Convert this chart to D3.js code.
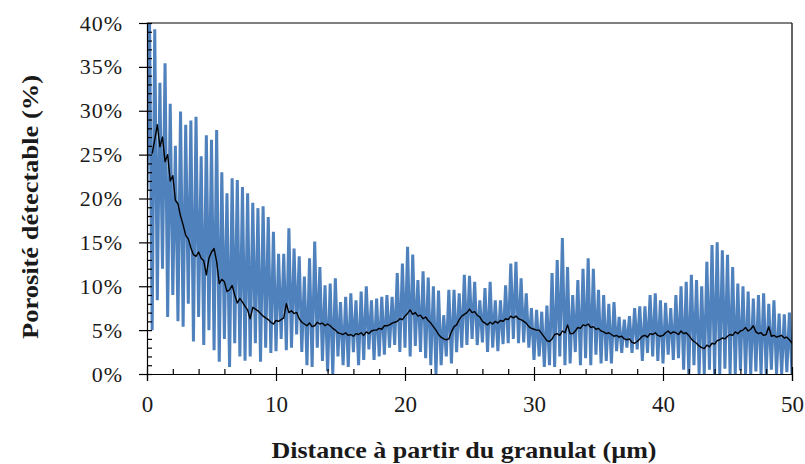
<!DOCTYPE html>
<html>
<head>
<meta charset="utf-8">
<script src="https://cdn.jsdelivr.net/npm/d3@7"></script>
<style>
  html, body { margin: 0; padding: 0; background: #fff; }
  svg { display: block; }
  .tick text { font-family: "Liberation Serif", "Times New Roman", serif; fill: #1a1a1a; }
</style>
</head>
<body>
<svg id="chart" width="805" height="464"></svg>
<script>
// ---- data ----
const xStep = 0.2;            // µm between samples
const blueStart = 0.0;        // first x of the raw series
const blackStart = 0.4;       // first x of the smoothed series

// raw porosity (%) sampled every 0.2 µm from 0 to 50
const porosityRaw = [
  21.0, 40.0, 5.0, 39.3, 8.4, 33.2, 12.0, 35.4, 6.5, 30.8,
  9.0, 26.0, 6.0, 29.9, 5.4, 28.4, 8.0, 28.9, 3.7, 29.3,
  6.5, 24.8, 3.3, 27.2, 5.0, 26.7, 2.7, 27.8, 1.4, 23.0,
  4.0, 20.6, 0.8, 22.3, 3.5, 22.1, 2.0, 21.3, 1.5, 20.6,
  2.0, 19.5, 3.5, 18.9, 1.4, 19.1, 3.0, 17.9, 2.4, 16.2,
  2.6, 13.7, 4.0, 13.7, 2.7, 16.6, 3.0, 14.3, 4.5, 13.4,
  2.5, 11.1, 1.0, 13.2, 0.8, 15.1, 3.0, 12.2, 1.5, 10.1,
  0.3, 10.3, 0.0, 10.9, 2.0, 8.2, 1.0, 8.8, 0.8, 9.2,
  2.5, 8.4, 1.0, 9.4, 1.6, 10.0, 2.8, 8.4, 1.6, 8.6,
  2.0, 8.8, 2.2, 9.0, 3.0, 8.8, 3.3, 11.5, 2.5, 12.6,
  3.0, 14.5, 2.0, 13.6, 3.2, 10.7, 2.5, 11.7, 1.8, 11.0,
  1.0, 10.0, 0.0, 9.5, 1.0, 6.7, 2.0, 9.6, 1.2, 9.6,
  2.5, 9.2, 3.0, 11.3, 3.3, 11.2, 4.0, 10.5, 3.3, 8.4,
  3.6, 9.8, 2.5, 10.5, 3.0, 8.4, 2.6, 8.4, 3.4, 10.1,
  3.5, 12.6, 4.0, 12.8, 3.5, 10.9, 3.6, 9.2, 3.0, 7.5,
  1.6, 7.3, 2.0, 7.1, 0.8, 7.8, 1.0, 11.5, 0.8, 13.0,
  2.0, 15.5, 1.0, 12.2, 1.2, 9.0, 2.5, 10.7, 1.0, 12.0,
  1.8, 13.2, 1.0, 12.0, 2.2, 9.6, 1.2, 9.0, 1.5, 8.0,
  1.2, 8.2, 2.6, 6.5, 2.4, 6.2, 3.0, 6.6, 2.4, 7.5,
  2.8, 7.7, 1.5, 7.7, 2.4, 9.0, 2.0, 9.2, 1.5, 8.4,
  1.2, 8.1, 2.2, 7.5, 1.6, 9.0, 1.8, 10.0, 0.5, 10.5,
  0.0, 11.3, 1.0, 10.7, 0.0, 10.0, 0.0, 12.8, 0.5, 14.7,
  0.0, 15.0, 0.0, 14.1, 0.6, 13.6, 0.0, 12.2, 0.0, 10.3,
  0.4, 10.0, 0.0, 9.4, 0.0, 8.6, 0.3, 9.0, 0.0, 9.2,
  0.0, 8.0, 0.5, 8.4, 0.0, 6.9, 0.0, 6.8, 0.2, 7.0,
  0.0
];

// smoothed porosity (%) every 0.2 µm from 0.4 to 50
const porositySmooth = [
  25.1, 26.7, 28.4, 25.9, 27.0, 24.2, 25.0, 22.0, 22.6, 19.8,
  19.4, 18.0, 17.0, 15.8, 15.4, 14.4, 13.6, 13.4, 13.9, 13.2,
  12.9, 11.3, 13.2, 13.9, 14.3, 12.8, 10.3, 10.8, 10.5, 9.4,
  9.6, 10.1, 9.0, 8.1, 8.6, 8.2, 7.7, 7.3, 6.3, 7.6,
  7.4, 7.2, 6.9, 6.6, 6.4, 6.2, 5.9, 5.7, 6.1, 6.0,
  6.2, 6.4, 8.0, 7.0, 7.2, 6.9, 7.0, 6.3, 5.9, 5.7,
  5.5, 5.8, 5.4, 5.5, 5.9, 5.7, 5.8, 5.5, 5.7, 5.5,
  5.2, 5.0, 4.7, 4.6, 4.5, 4.7, 4.4, 4.5, 4.3, 4.6,
  4.5, 4.7, 4.4, 4.8, 4.6, 4.9, 5.0, 5.0, 5.2, 5.1,
  5.5, 5.5, 5.6, 5.8, 5.9, 6.0, 6.3, 6.2, 6.6, 6.9,
  7.3, 6.8, 7.0, 6.6, 6.7, 6.3, 6.5, 6.1, 5.8, 5.4,
  5.0, 4.5, 4.2, 4.0, 3.9, 4.0, 4.8, 5.4, 5.6, 6.2,
  6.6, 6.8, 7.0, 7.4, 7.0, 7.1, 6.7, 6.5, 6.0, 5.8,
  5.6, 5.9, 5.7, 6.0, 5.8, 6.1, 6.0, 6.3, 6.2, 6.6,
  6.4, 6.6, 6.3, 6.2, 6.0, 5.8, 5.4, 5.2, 5.1, 5.0,
  5.0, 4.6, 4.2, 3.8, 3.7, 4.0, 4.5, 4.6, 4.4, 4.9,
  4.7, 5.6, 4.6, 4.6, 4.9, 5.3, 5.2, 5.6, 5.5, 5.7,
  5.3, 5.4, 5.1, 5.2, 4.9, 4.8, 4.6, 4.7, 4.5, 4.3,
  4.4, 4.2, 4.3, 4.0, 3.9, 4.0, 3.6, 3.5, 3.7, 4.0,
  4.3, 4.4, 4.2, 4.6, 4.5, 4.7, 4.4, 4.3, 4.4, 4.7,
  4.9, 4.6, 4.8, 4.7, 4.5, 4.9, 4.6, 4.7, 4.4, 4.0,
  3.7, 3.5, 3.2, 3.0, 2.9, 3.3, 3.1, 3.5, 3.4, 3.8,
  3.9, 4.1, 4.0, 4.3, 4.5, 4.4, 4.8, 4.6, 4.9, 5.0,
  5.3, 4.9, 5.1, 5.5, 4.8, 4.6, 4.7, 4.4, 4.5, 5.4,
  4.3, 4.4, 4.2, 4.3, 4.4, 4.1, 4.2, 3.9, 3.5
];

const xTicks = [0, 10, 20, 30, 40, 50];
const xMinorTicks = [2, 4, 6, 8, 12, 14, 16, 18, 22, 24, 26, 28, 32, 34, 36, 38, 42, 44, 46, 48];
const yTicks = [0, 5, 10, 15, 20, 25, 30, 35, 40];
const yMinorTicks = [1,2,3,4,6,7,8,9,11,12,13,14,16,17,18,19,21,22,23,24,26,27,28,29,31,32,33,34,36,37,38,39];
const xTitle = "Distance à partir du granulat (µm)";
const yTitle = "Porosité détectable (%)";

// ---- drawing ----
(function () {
const svg = d3.select("#chart");
const pL = 147, pR = 792, pT = 23, pB = 374;
const fam = '"Liberation Serif", "Times New Roman", serif';

const x = d3.scaleLinear().domain([0, 50]).range([pL, pR]);
const y = d3.scaleLinear().domain([0, 40]).range([pB, pT]);

const blueData = porosityRaw.map((v, i) => [blueStart + i * xStep, v]);
const blackData = porositySmooth.map((v, i) => [blackStart + i * xStep, v]);

const line = d3.line().x(d => x(d[0])).y(d => y(d[1]));

svg.append("defs").append("clipPath").attr("id", "plotclip")
  .append("rect").attr("x", pL).attr("y", pT - 1).attr("width", pR - pL).attr("height", pB - pT + 1);

const plot = svg.append("g").attr("clip-path", "url(#plotclip)");
plot.append("path").datum(blueData)
  .attr("d", line).attr("fill", "none")
  .attr("stroke", "#4F81BD").attr("stroke-width", 3)
  .attr("stroke-linejoin", "miter").attr("stroke-miterlimit", 2);
plot.append("path").datum(blackData)
  .attr("d", line).attr("fill", "none")
  .attr("stroke", "#000").attr("stroke-width", 1.4)
  .attr("stroke-linejoin", "round");

// frame (top and right)
svg.append("line").attr("x1", pL).attr("x2", pR).attr("y1", pT).attr("y2", pT)
  .attr("stroke", "#000").attr("stroke-width", 1.2);
svg.append("line").attr("x1", pR).attr("x2", pR).attr("y1", pT).attr("y2", pB)
  .attr("stroke", "#000").attr("stroke-width", 1.2);

// Y axis
const yAxis = svg.append("g").attr("transform", `translate(${pL},0)`)
  .call(d3.axisLeft(y).tickValues(yTicks).tickSize(8).tickPadding(16).tickFormat(d => d + "%"));
yAxis.selectAll("text").style("font-size", "22px").style("letter-spacing", "1px");
svg.append("g").attr("transform", `translate(${pL},0)`)
  .call(d3.axisLeft(y).tickValues(yTicks.concat(yMinorTicks)).tickSizeInner(-5).tickSizeOuter(0).tickFormat(""))
  .select(".domain").remove();

// X axis
const xAxis = svg.append("g").attr("transform", `translate(0,${pB})`)
  .call(d3.axisBottom(x).tickValues(xTicks).tickSize(7).tickPadding(15).tickFormat(d3.format("d")));
xAxis.selectAll("text").style("font-size", "23px");
svg.append("g").attr("transform", `translate(0,${pB})`)
  .call(d3.axisBottom(x).tickValues(xTicks).tickSizeInner(-7).tickSizeOuter(0).tickFormat(""))
  .select(".domain").remove();
svg.append("g").attr("transform", `translate(0,${pB})`)
  .call(d3.axisBottom(x).tickValues(xMinorTicks).tickSizeInner(-5).tickSizeOuter(0).tickFormat(""))
  .select(".domain").remove();

svg.selectAll(".domain, .tick line").attr("stroke", "#000").attr("stroke-width", 1.2);

// titles
svg.append("text")
  .attr("x", 464).attr("y", 458)
  .attr("text-anchor", "middle")
  .attr("textLength", 385).attr("lengthAdjust", "spacingAndGlyphs")
  .style("font-family", fam)
  .style("font-weight", "bold").style("font-size", "23px").attr("fill", "#1a1a1a")
  .text(xTitle);

svg.append("text")
  .attr("transform", "translate(38,207) rotate(-90)")
  .attr("text-anchor", "middle")
  .attr("textLength", 264).attr("lengthAdjust", "spacingAndGlyphs")
  .style("font-family", fam)
  .style("font-weight", "bold").style("font-size", "23px").attr("fill", "#1a1a1a")
  .text(yTitle);
})();
</script>
</body>
</html>
